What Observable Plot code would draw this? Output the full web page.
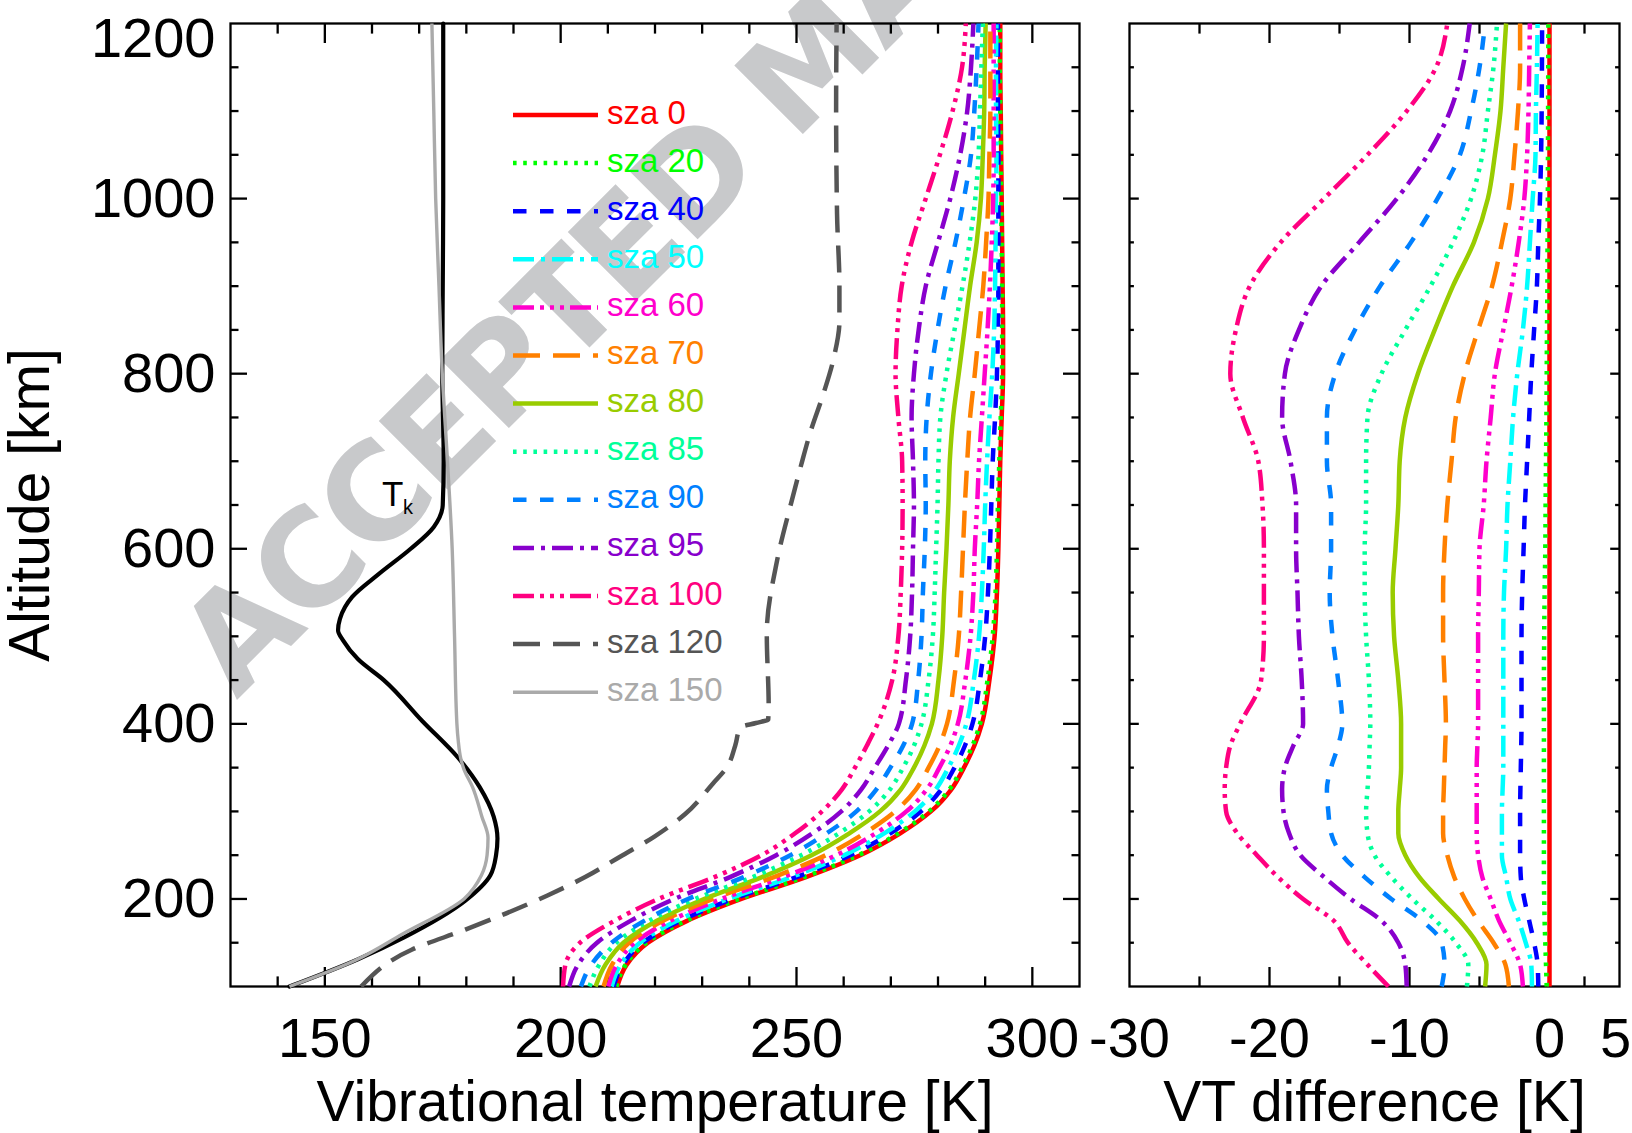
<!DOCTYPE html>
<html>
<head>
<meta charset="utf-8">
<script src="https://cdn.jsdelivr.net/npm/d3@7"></script>
<script src="https://cdn.jsdelivr.net/npm/@observablehq/plot@0.6"></script>
<style>
  html, body { margin: 0; padding: 0; background: #ffffff; overflow: hidden; }
  #chart { position: relative; width: 1632px; height: 1133px; background: #ffffff; }
  #chart > svg { position: absolute; left: 0; top: 0; }
</style>
</head>
<body>
<div id="chart"></div>
<script>
// ================= DATA =================
// common altitude grid [km] for the sza 0..100 profiles
const altitude = [100,125,150,175,200,225,250,275,300,325,350,375,400,450,500,550,600,650,700,750,800,850,900,950,1000,1050,1100,1150,1200];

// vibrational temperature [K] (left panel)
const vt_sza0   = [212.0,214.0,218.5,226.8,238.3,252.0,263.5,272.0,278.5,282.8,285.5,287.7,289.3,290.9,292.0,292.5,292.8,293.0,293.2,293.5,293.8,293.8,293.7,293.6,293.5,293.4,293.3,293.2,293.2];
const vt_sza20  = [211.8,213.8,218.2,226.5,237.9,251.6,263.1,271.6,278.1,282.4,285.1,287.3,288.9,290.5,291.6,292.2,292.5,292.7,293.0,293.3,293.6,293.6,293.6,293.5,293.4,293.3,293.2,293.1,293.1];
const vt_sza40  = [211.2,213.2,217.4,225.4,236.5,250.0,261.4,269.9,276.4,280.7,283.5,285.7,287.3,288.9,290.0,290.6,291.0,291.3,291.6,292.1,292.5,292.7,292.8,292.8,292.8,292.8,292.7,292.7,292.7];
const vt_sza50  = [210.8,212.7,216.8,224.6,235.5,248.9,260.1,268.6,275.1,279.5,282.2,284.4,286.0,287.6,288.7,289.3,289.7,290.0,290.4,290.9,291.5,291.9,292.1,292.2,292.3,292.4,292.3,292.3,292.4];
const vt_sza60  = [210.1,211.9,215.7,223.2,234.1,247.2,258.4,266.8,273.3,277.6,280.3,282.6,284.2,285.8,286.9,287.5,287.8,288.3,288.7,289.3,289.9,290.5,291.0,291.4,291.7,291.8,291.8,291.8,291.8];
const vt_sza70  = [209.1,210.9,214.5,221.7,232.3,245.2,256.2,264.4,270.9,275.3,278.0,280.3,281.9,283.4,284.4,284.9,285.3,285.7,286.2,286.8,287.8,288.7,289.6,290.2,290.7,290.9,291.1,291.1,291.1];
const vt_sza80  = [207.4,209.5,213.3,220.4,230.4,242.7,253.2,261.2,267.7,272.1,274.9,277.1,278.7,280.1,280.9,281.3,281.8,282.2,282.5,283.2,284.4,285.6,286.8,288.2,289.1,289.5,289.8,289.9,290.1];
const vt_sza85  = [206.1,208.2,211.8,218.7,228.5,240.7,251.0,259.0,265.4,269.8,272.6,274.9,276.5,278.0,278.9,279.3,279.6,279.9,280.1,280.5,281.8,283.5,285.2,286.7,287.9,288.6,288.9,289.2,289.5];
const vt_sza90  = [204.3,206.5,210.8,217.7,227.0,238.8,248.7,256.4,262.7,266.9,269.9,272.6,274.5,275.8,276.5,276.8,277.2,277.4,277.3,277.6,278.5,279.9,281.6,283.7,285.5,287.0,287.7,288.2,288.6];
const vt_sza95  = [201.8,203.7,207.7,214.8,224.1,235.9,245.7,253.4,259.5,263.7,266.6,269.4,271.7,273.2,274.1,274.5,274.7,274.9,274.7,274.4,274.9,275.9,277.4,280.0,282.6,284.7,286.2,287.0,287.5];
const vt_sza100 = [200.5,201.0,204.1,211.4,220.7,232.6,242.6,249.7,255.4,259.6,262.4,264.9,267.2,270.3,271.6,272.1,272.4,272.5,272.4,271.6,271.0,271.4,272.3,274.4,277.4,280.4,283.1,285.1,285.9];

// sza 120, sza 150 and kinetic temperature profiles (own altitude grids)
const sza120_altitude    = [100,142,165,204,225,248,271,297,332,350,375,396,401,405,420,503,587,655,696,736,777,818,860,900,982,1104,1200];
const sza120_temperature = [157.7,168.4,179.8,197.2,205.2,212.5,219.8,226.4,232.3,235.2,237.0,238.1,241.4,244.0,244.1,243.7,245.9,249.0,251.0,253.1,255.7,257.9,259.1,259.1,258.6,258.4,258.5];
const sza150_altitude    = [100,130,160,200,227,250,270,294,328,348,361,380,400,500,600,700,800,900,1000,1100,1200];
const sza150_temperature = [142.5,156.5,166.5,179.5,183.2,184.4,184.6,183.3,181.3,179.5,178.8,178.3,178.0,177.5,177.0,176.0,174.9,174.2,173.5,173.1,172.7];
const tk_altitude        = [100,131,156,198,227,250,269,294,328,361,403,450,474,495,507,520,545,571,600,625,650,700,800,900,1000,1100,1200];
const tk_temperature     = [142.5,157.0,166.8,179.8,185.1,186.3,186.6,185.8,182.8,178.3,170.7,162.5,157.0,153.9,152.8,153.2,155.8,161.4,168.2,173.1,175.0,175.2,174.9,175.0,175.1,175.1,175.1];

// VT difference [K] relative to sza 0 (right panel)
const dvt_sza0   = [0,0,0,0,0,0,0,0,0,0,0,0,0,0,0,0,0,0,0,0,0,0,0,0,0,0,0,0,0];
const dvt_sza20  = [-0.2,-0.25,-0.3,-0.35,-0.38,-0.4,-0.4,-0.4,-0.4,-0.4,-0.4,-0.4,-0.4,-0.4,-0.38,-0.35,-0.3,-0.28,-0.25,-0.22,-0.2,-0.18,-0.15,-0.14,-0.12,-0.11,-0.1,-0.09,-0.08];
const dvt_sza40  = [-0.8,-0.85,-1.1,-1.45,-1.8,-2.05,-2.1,-2.1,-2.1,-2.08,-2.05,-2.02,-2.0,-2.0,-2.0,-1.95,-1.85,-1.75,-1.6,-1.45,-1.3,-1.1,-0.9,-0.8,-0.68,-0.6,-0.56,-0.54,-0.53];
const dvt_sza50  = [-1.25,-1.3,-1.7,-2.2,-2.8,-3.1,-3.4,-3.4,-3.4,-3.35,-3.3,-3.3,-3.3,-3.3,-3.3,-3.25,-3.1,-3.0,-2.8,-2.6,-2.3,-1.9,-1.6,-1.4,-1.2,-1.0,-0.97,-0.9,-0.85];
const dvt_sza60  = [-1.9,-2.1,-2.8,-3.6,-4.2,-4.8,-5.1,-5.2,-5.2,-5.2,-5.2,-5.15,-5.1,-5.1,-5.1,-5.05,-5.0,-4.7,-4.5,-4.2,-3.9,-3.3,-2.7,-2.2,-1.8,-1.6,-1.5,-1.45,-1.4];
const dvt_sza70  = [-2.9,-3.15,-4.0,-5.1,-6.05,-6.8,-7.3,-7.6,-7.6,-7.55,-7.5,-7.45,-7.4,-7.5,-7.6,-7.6,-7.5,-7.3,-7.0,-6.7,-6.05,-5.1,-4.1,-3.4,-2.8,-2.5,-2.25,-2.1,-2.1];
const dvt_sza80  = [-4.6,-4.5,-5.2,-6.4,-7.9,-9.3,-10.3,-10.8,-10.8,-10.7,-10.6,-10.6,-10.6,-10.8,-11.1,-11.2,-11.0,-10.8,-10.7,-10.3,-9.4,-8.2,-6.9,-5.4,-4.4,-3.9,-3.5,-3.3,-3.1];
const dvt_sza85  = [-5.9,-5.8,-6.7,-8.1,-9.8,-11.3,-12.5,-13.0,-13.1,-13.0,-12.9,-12.85,-12.8,-12.9,-13.1,-13.2,-13.2,-13.1,-13.1,-13.0,-12.0,-10.3,-8.5,-6.9,-5.6,-4.8,-4.4,-4.0,-3.75];
const dvt_sza90  = [-7.7,-7.5,-7.7,-9.1,-11.3,-13.2,-14.8,-15.6,-15.8,-15.9,-15.6,-15.1,-14.8,-15.1,-15.5,-15.7,-15.6,-15.6,-15.9,-15.9,-15.3,-13.9,-12.1,-9.9,-8.0,-6.4,-5.6,-5.0,-4.6];
const dvt_sza95  = [-10.2,-10.3,-10.8,-12.0,-14.2,-16.1,-17.8,-18.6,-19.0,-19.1,-18.9,-18.3,-17.6,-17.7,-17.9,-18.0,-18.1,-18.1,-18.5,-19.1,-18.9,-17.9,-16.3,-13.6,-10.9,-8.7,-7.1,-6.2,-5.7];
const dvt_sza100 = [-11.5,-13.0,-14.4,-15.4,-17.6,-19.4,-20.9,-22.3,-23.1,-23.2,-23.1,-22.8,-22.1,-20.6,-20.4,-20.4,-20.4,-20.5,-20.8,-21.9,-22.8,-22.4,-21.4,-19.2,-16.1,-13.0,-10.2,-8.1,-7.3];

// tick values
const xTicksLeft   = [150, 200, 250, 300];
const xMinorLeft   = [140, 160, 170, 180, 190, 210, 220, 230, 240, 260, 270, 280, 290];
const xTicksRight  = [-30, -20, -10, 0];
const xEdgeRight   = [5];
const xMajorRight  = [-20, -10, 0];
const xMinorRight  = [-25, -15, -5, 2.5];
const yTickLabels  = [200, 400, 600, 800, 1000];
const yTopLabel    = [1200];
const yMajor       = [200, 400, 600, 800, 1000];
const yMinor       = [150, 250, 300, 350, 450, 500, 550, 650, 700, 750, 850, 900, 950, 1050, 1100, 1150];

const seriesNames = ["sza 0","sza 20","sza 40","sza 50","sza 60","sza 70","sza 80","sza 85","sza 90","sza 95","sza 100","sza 120","sza 150"];
const tkLabel = [{T: 162.1, alt: 649.4}];
const watermark = ["ACCEPTED MANUSCRIPT"];

// ================= STYLES =================
const FONT = "'Liberation Sans', Arial, Helvetica, sans-serif";
const W = 1632, H = 1133;
const dotted = "3.6,6.6", dashed = "13.5,13.5", dashDot = "21,7,4,7", dashDot3 = "21,6,4,6,4,6,4,6", longDash = "27,13";
const styles = {
  "sza 0":   {color: "#ff0000", dash: null},
  "sza 20":  {color: "#00ff00", dash: dotted},
  "sza 40":  {color: "#0000ff", dash: dashed},
  "sza 50":  {color: "#00ffff", dash: dashDot},
  "sza 60":  {color: "#ff00cc", dash: dashDot3},
  "sza 70":  {color: "#ff8000", dash: longDash},
  "sza 80":  {color: "#99cc00", dash: null},
  "sza 85":  {color: "#00ff99", dash: dotted},
  "sza 90":  {color: "#0080ff", dash: dashed},
  "sza 95":  {color: "#8800cc", dash: dashDot},
  "sza 100": {color: "#ff0080", dash: dashDot3},
  "sza 120": {color: "#555555", dash: longDash},
  "sza 150": {color: "#aaaaaa", dash: null, width: 3.4}
};
const LW = 4.5, AXW = 2.3;

const profile = (alts, vals) => alts.map((a, i) => ({alt: a, value: vals[i]}));
const leftSeries = {
  "sza 0": vt_sza0, "sza 20": vt_sza20, "sza 40": vt_sza40, "sza 50": vt_sza50, "sza 60": vt_sza60,
  "sza 70": vt_sza70, "sza 80": vt_sza80, "sza 85": vt_sza85, "sza 90": vt_sza90, "sza 95": vt_sza95, "sza 100": vt_sza100
};
const rightSeries = {
  "sza 0": dvt_sza0, "sza 20": dvt_sza20, "sza 40": dvt_sza40, "sza 50": dvt_sza50, "sza 60": dvt_sza60,
  "sza 70": dvt_sza70, "sza 80": dvt_sza80, "sza 85": dvt_sza85, "sza 90": dvt_sza90, "sza 95": dvt_sza95, "sza 100": dvt_sza100
};

function lineMark(data, name) {
  const s = styles[name];
  return Plot.line(data, {
    x: "value", y: "alt", stroke: s.color, strokeWidth: s.width ?? LW,
    strokeDasharray: s.dash ?? undefined, strokeLinecap: "butt", strokeLinejoin: "round",
    curve: "monotone-y"
  });
}

function tickMarks(xMajor, xMinor, yMajorLen, yMinorLen) {
  const o = {fill: "none", label: null, strokeWidth: AXW, stroke: "black"};
  return [
    Plot.axisX(xMajor, {...o, anchor: "bottom", tickSize: -19}),
    Plot.axisX(xMajor, {...o, anchor: "top", tickSize: -19}),
    Plot.axisX(xMinor, {...o, anchor: "bottom", tickSize: -9.6}),
    Plot.axisX(xMinor, {...o, anchor: "top", tickSize: -9.6}),
    Plot.axisY(yMajor, {...o, anchor: "left", tickSize: -yMajorLen}),
    Plot.axisY(yMajor, {...o, anchor: "right", tickSize: -yMajorLen}),
    Plot.axisY(yMinor, {...o, anchor: "left", tickSize: -yMinorLen}),
    Plot.axisY(yMinor, {...o, anchor: "right", tickSize: -yMinorLen})
  ];
}

// ================= LEFT PANEL =================
const leftMarks = [
  Plot.text(watermark, {text: d => d, frameAnchor: "top-left", dx: 6, dy: 677, rotate: -45,
    textAnchor: "start", lineAnchor: "bottom", fontSize: 133, fontWeight: "bold",
    fontFamily: "'DejaVu Sans', 'Liberation Sans', sans-serif", fill: "#c8c9cb"}),
  Plot.frame({stroke: "black", strokeWidth: AXW}),
  ...tickMarks(xTicksLeft, xMinorLeft, 17, 8.5),
  Plot.axisX(xTicksLeft, {anchor: "bottom", tickSize: 0, tickPadding: 31, fontSize: 56, label: null, tickFormat: d => String(d), fill: "black"}),
  Plot.axisY(yTickLabels, {anchor: "left", tickSize: 0, tickPadding: 15, fontSize: 56, label: null, tickFormat: d => String(d), fill: "black"}),
  Plot.axisY(yTopLabel, {anchor: "left", tickSize: 0, tickPadding: 15, fontSize: 56, label: null, dy: 16, tickFormat: d => String(d), fill: "black"}),
  Plot.line(profile(tk_altitude, tk_temperature), {x: "value", y: "alt", stroke: "black", strokeWidth: 4.2, curve: "monotone-y"})
];
for (const name of seriesNames.slice(0, 11)) leftMarks.push(lineMark(profile(altitude, leftSeries[name]), name));
leftMarks.push(lineMark(profile(sza120_altitude, sza120_temperature), "sza 120"));
leftMarks.push(lineMark(profile(sza150_altitude, sza150_temperature), "sza 150"));
leftMarks.push(
  Plot.text(tkLabel, {x: "T", y: "alt", text: () => "T", textAnchor: "start", lineAnchor: "bottom", fontSize: 35, fill: "black"}),
  Plot.text(tkLabel, {x: "T", y: "alt", text: () => "k", textAnchor: "start", lineAnchor: "bottom", fontSize: 20, dx: 21, dy: 8, fill: "black"}),
  Plot.text(["Vibrational temperature [K]"], {text: d => d, frameAnchor: "bottom", dy: 134, lineAnchor: "bottom", fontSize: 57, fill: "black"}),
  Plot.text(["Altitude [km]"], {text: d => d, frameAnchor: "left", dx: -182, rotate: -90, lineAnchor: "bottom", textAnchor: "middle", fontSize: 57, fill: "black"})
);

const left = Plot.plot({
  width: W, height: H,
  marginLeft: 230, marginRight: W - 1079, marginTop: 23, marginBottom: H - 986,
  x: {domain: [130, 310]},
  y: {domain: [100, 1200]},
  style: {background: "transparent", fontFamily: FONT, color: "black", overflow: "hidden"},
  marks: leftMarks
});
for (const t of left.querySelectorAll("text")) {
  if (t.textContent === watermark[0]) t.setAttribute("letter-spacing", "-4");
}

// ================= RIGHT PANEL =================
const rightMarks = [
  Plot.frame({stroke: "black", strokeWidth: AXW}),
  ...tickMarks(xMajorRight, xMinorRight, 9.8, 4.9),
  Plot.axisX(xTicksRight, {anchor: "bottom", tickSize: 0, tickPadding: 31, fontSize: 56, label: null, tickFormat: d => String(d), fill: "black"}),
  Plot.axisX(xEdgeRight, {anchor: "bottom", tickSize: 0, tickPadding: 31, fontSize: 56, label: null, dx: -4, tickFormat: d => String(d), fill: "black"})
];
for (const name of seriesNames.slice(0, 11)) rightMarks.push(lineMark(profile(altitude, rightSeries[name]), name));
rightMarks.push(
  Plot.text(["VT difference [K]"], {text: d => d, frameAnchor: "bottom", dy: 134, lineAnchor: "bottom", fontSize: 57, fill: "black"})
);
const right = Plot.plot({
  width: W, height: H,
  marginLeft: 1129, marginRight: W - 1619, marginTop: 23, marginBottom: H - 986,
  x: {domain: [-30, 5]},
  y: {domain: [100, 1200]},
  style: {background: "transparent", fontFamily: FONT, color: "black"},
  marks: rightMarks
});

// ================= LEGEND (overlay) =================
const legend = d3.create("svg").attr("width", W).attr("height", H)
  .style("position", "absolute").style("left", "0px").style("top", "0px");
seriesNames.forEach((name, i) => {
  const s = styles[name];
  const y = 115 + 48.1 * i;
  legend.append("line").attr("x1", 513).attr("x2", 598).attr("y1", y).attr("y2", y)
    .attr("stroke", s.color).attr("stroke-width", s.width ?? LW)
    .attr("stroke-dasharray", s.dash).attr("stroke-linecap", "butt");
  legend.append("text").attr("x", 607).attr("y", y + 8.5).attr("fill", s.color)
    .attr("font-size", 33).attr("font-family", FONT).text(name);
});

const chart = document.getElementById("chart");
chart.append(left, right, legend.node());
</script>
</body>
</html>
